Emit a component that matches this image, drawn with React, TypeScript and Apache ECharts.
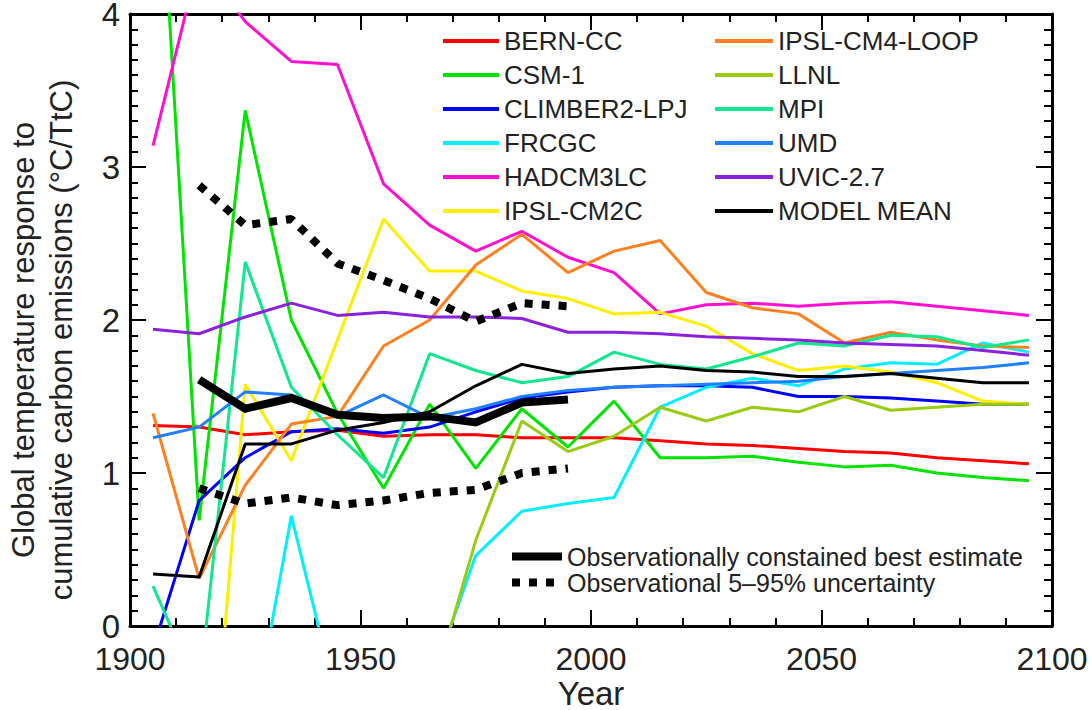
import React, { useEffect, useRef } from "react";
import * as echarts from "echarts";

const years = [1905, 1915, 1925, 1935, 1945, 1955, 1965, 1975, 1985, 1995, 2005, 2015, 2025, 2035, 2045, 2055, 2065, 2075, 2085, 2095];
const obsYears = [1915, 1925, 1935, 1945, 1955, 1965, 1975, 1985, 1995];

const bernCC = [1.31, 1.30, 1.25, 1.27, 1.28, 1.24, 1.25, 1.25, 1.23, 1.23, 1.23, 1.21, 1.19, 1.18, 1.16, 1.14, 1.13, 1.10, 1.08, 1.06];
const csm1 = [5.8, 0.69, 3.37, 2.0, 1.39, 0.90, 1.45, 1.03, 1.42, 1.17, 1.47, 1.10, 1.10, 1.11, 1.07, 1.04, 1.05, 1.00, 0.97, 0.95];
const climber = [-0.15, 0.82, 1.10, 1.27, 1.29, 1.26, 1.30, 1.40, 1.49, 1.53, 1.56, 1.57, 1.57, 1.56, 1.50, 1.50, 1.49, 1.47, 1.45, 1.45];
const frcgc = [null, null, -0.94, 0.72, -0.51, -0.5, -0.39, 0.46, 0.75, 0.80, 0.84, 1.43, 1.56, 1.62, 1.57, 1.68, 1.72, 1.71, 1.85, 1.79];
const hadcm3lc = [3.14, 4.36, 3.95, 3.69, 3.67, 2.89, 2.62, 2.45, 2.58, 2.41, 2.31, 2.04, 2.10, 2.11, 2.09, 2.11, 2.12, 2.09, 2.06, 2.03];
const ipslCm2c = [null, -2.05, 1.58, 1.08, 1.87, 2.66, 2.32, 2.32, 2.19, 2.14, 2.04, 2.05, 1.96, 1.78, 1.67, 1.70, 1.66, 1.59, 1.47, 1.45];
const ipslCm4 = [1.39, 0.31, 0.92, 1.32, 1.37, 1.83, 2.0, 2.36, 2.56, 2.31, 2.45, 2.52, 2.18, 2.08, 2.04, 1.85, 1.92, 1.87, 1.83, 1.82];
const llnl = [null, null, null, null, null, null, -0.48, 0.56, 1.34, 1.14, 1.24, 1.43, 1.34, 1.43, 1.40, 1.50, 1.41, 1.43, 1.45, 1.45];
const mpi = [0.26, -0.43, 2.38, 1.56, 1.25, 0.97, 1.78, 1.67, 1.59, 1.63, 1.79, 1.71, 1.68, 1.76, 1.85, 1.83, 1.90, 1.89, 1.82, 1.87];
const umd = [1.23, 1.30, 1.53, 1.51, 1.37, 1.51, 1.36, 1.42, 1.50, 1.54, 1.56, 1.57, 1.58, 1.59, 1.60, 1.63, 1.65, 1.67, 1.69, 1.72];
const uvic = [1.94, 1.91, 2.02, 2.11, 2.03, 2.05, 2.02, 2.02, 2.01, 1.92, 1.92, 1.91, 1.89, 1.88, 1.87, 1.85, 1.84, 1.83, 1.80, 1.77];
const modelMean = [0.34, 0.32, 1.19, 1.19, 1.28, 1.33, 1.40, 1.57, 1.71, 1.65, 1.68, 1.70, 1.67, 1.66, 1.63, 1.63, 1.65, 1.62, 1.59, 1.59];

const obsBest = [1.61, 1.42, 1.49, 1.38, 1.36, 1.37, 1.33, 1.46, 1.48];
const obsUpper = [2.88, 2.62, 2.66, 2.37, 2.26, 2.14, 1.99, 2.11, 2.09];
const obsLower = [0.90, 0.80, 0.84, 0.79, 0.82, 0.87, 0.89, 1.00, 1.03];

const modelNames = ["BERN-CC", "CSM-1", "CLIMBER2-LPJ", "FRCGC", "HADCM3LC", "IPSL-CM2C", "IPSL-CM4-LOOP", "LLNL", "MPI", "UMD", "UVIC-2.7", "MODEL MEAN"];
const modelValues = [bernCC, csm1, climber, frcgc, hadcm3lc, ipslCm2c, ipslCm4, llnl, mpi, umd, uvic, modelMean];
const modelColors = ["#ff0000", "#00e400", "#0000ff", "#00f0ff", "#ff10d0", "#ffee00", "#ff8020", "#99cc11", "#10e890", "#2080ff", "#8b20dd", "#000000"];

const obsBestName = "Observationally constained best estimate";
const obsRangeName = "Observational 5\u201395% uncertainty";

const xTicks = { min: 1900, max: 2100, interval: 50 };
const yTicks = { min: 0, max: 4, interval: 1 };

const FONT = "'Liberation Sans', Arial, Helvetica, sans-serif";
const TEXT = "#222";

function pairs(xs: number[], vs: (number | null)[]) {
  return xs.map((x, i) => [x, vs[i]]);
}

function buildOption() {
  const axisLine = { show: true, onZero: false, lineStyle: { color: "#000", width: 3 } };
  const axisTick = { show: true, inside: true, length: 16, lineStyle: { color: "#000", width: 2 } };
  const xMinor = { show: true, splitNumber: 5, length: 8, lineStyle: { color: "#000", width: 2 } };
  const yMinor = { show: true, splitNumber: 10, length: 8, lineStyle: { color: "#000", width: 2 } };

  const series: any[] = modelNames.map((name, i) => ({
    name,
    type: "line",
    data: pairs(years, modelValues[i]),
    symbol: "none",
    lineStyle: { color: modelColors[i], width: 3 },
    itemStyle: { color: modelColors[i] },
    clip: true,
    z: name === "MODEL MEAN" ? 4 : 3,
  }));
  series.push({
    name: obsBestName,
    type: "line",
    data: pairs(obsYears, obsBest),
    symbol: "none",
    lineStyle: { color: "#000", width: 8, cap: "butt", join: "miter" },
    itemStyle: { color: "#000" },
    z: 5,
  });
  [obsUpper, obsLower].forEach((vals) =>
    series.push({
      name: obsRangeName,
      type: "line",
      data: pairs(obsYears, vals),
      symbol: "none",
      lineStyle: { color: "#000", width: 8, type: [8, 9], cap: "butt" },
      itemStyle: { color: "#000" },
      z: 5,
    })
  );

  const legendCommon = {
    orient: "vertical",
    itemHeight: 14,
    selectedMode: false,
    textStyle: { fontSize: 26, color: TEXT, fontFamily: FONT },
    lineStyle: { width: 4 },
    itemStyle: { opacity: 0, borderWidth: 0 },
  };

  return {
    animation: false,
    backgroundColor: "#fff",
    textStyle: { fontFamily: FONT },
    grid: { left: 130, right: 40, top: 14, bottom: 84, containLabel: false, outerBoundsMode: "none" },
    legend: [
      { ...legendCommon, data: modelNames.slice(0, 6), left: 436, top: 23, itemWidth: 56, itemGap: 8 },
      { ...legendCommon, data: modelNames.slice(6), left: 708, top: 23, itemWidth: 58, itemGap: 8 },
      {
        ...legendCommon,
        data: [obsBestName, obsRangeName],
        left: 503,
        top: 539,
        itemWidth: 50,
        itemGap: 1,
        textStyle: { fontSize: 25, color: TEXT, fontFamily: FONT },
        lineStyle: { width: 8 },
      },
    ],
    xAxis: [
      {
        type: "value",
        position: "bottom",
        ...xTicks,
        name: "Year",
        nameLocation: "middle",
        nameGap: 52,
        nameMoveOverlap: false,
        nameTextStyle: { fontSize: 33, lineHeight: 30, color: TEXT, fontFamily: FONT },
        axisLine,
        axisTick,
        minorTick: xMinor,
        splitLine: { show: false },
        axisLabel: { fontSize: 32, lineHeight: 28, color: TEXT, margin: 19, fontFamily: FONT, formatter: (v: number) => String(v) },
      },
      {
        type: "value",
        position: "top",
        ...xTicks,
        axisLine,
        axisTick,
        minorTick: xMinor,
        splitLine: { show: false },
        axisLabel: { show: false },
      },
    ],
    yAxis: [
      {
        type: "value",
        position: "left",
        ...yTicks,
        name: "Global temperature response to\ncumulative carbon emissions (\u00b0C/TtC)",
        nameLocation: "middle",
        nameRotate: 90,
        nameGap: 50,
        nameMoveOverlap: false,
        nameTextStyle: { fontSize: 31, color: TEXT, fontFamily: FONT, lineHeight: 38, padding: [0, 40, 0, 0] },
        axisLine,
        axisTick,
        minorTick: yMinor,
        splitLine: { show: false },
        axisLabel: { fontSize: 33, lineHeight: 24, color: TEXT, margin: 10, fontFamily: FONT },
      },
      {
        type: "value",
        position: "right",
        ...yTicks,
        axisLine,
        axisTick,
        minorTick: yMinor,
        splitLine: { show: false },
        axisLabel: { show: false },
      },
    ],
    series,
  };
}

export default function App() {
  const ref = useRef<HTMLDivElement>(null);
  useEffect(() => {
    document.body.style.margin = "0";
    const chart = echarts.init(ref.current as HTMLDivElement, null, { renderer: "svg" });
    chart.setOption(buildOption() as any);
    return () => chart.dispose();
  }, []);
  return <div ref={ref} style={{ width: 1092, height: 710, background: "#fff" }} />;
}
